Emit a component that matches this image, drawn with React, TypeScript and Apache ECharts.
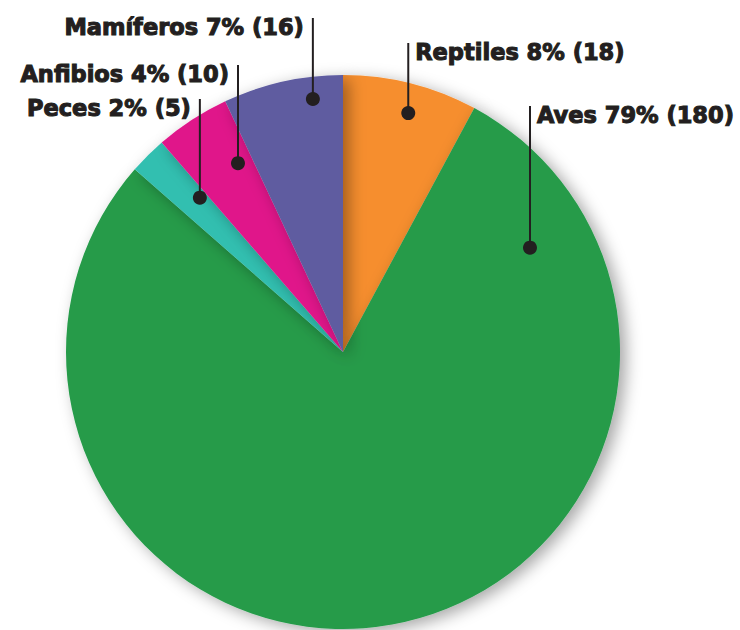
import React, { useEffect, useRef } from "react";
import * as echarts from "echarts";

const categories = ["Reptiles", "Aves", "Peces", "Anfibios", "Mamíferos"];
const values = [18, 180, 5, 10, 16];
const colors = ["#F68E2F", "#259B4A", "#33BFB0", "#E0168A", "#5E5CA0"];

// label layout (style only): position of dot inside slice and label cap-top y
const labelCfg = [
  { t: 0.54, rf: 0.894, top: 43, side: "right" },
  { t: 0.115, rf: 0.773, top: 106, side: "right" },
  { t: 0.75, rf: 0.76, top: 99, side: "left" },
  { t: 0.75, rf: 0.78, top: 65, side: "left" },
  { t: 0.73, rf: 0.92, top: 18, side: "left" },
];

const CX = 343;
const CY = 352;
const R = 277;
const INK = "#231F20";

export default function App() {
  const ref = useRef<HTMLDivElement>(null);
  useEffect(() => {
    document.body.style.margin = "0";
    if (!ref.current) return;
    const chart = echarts.init(ref.current, null, { renderer: "svg" });
    const total = values.reduce((a, b) => a + b, 0);
    const graphics: any[] = [];
    let acc = 0;
    values.forEach((v, i) => {
      const a0 = (acc / total) * 360;
      const a1 = ((acc + v) / total) * 360;
      acc += v;
      const cfg = labelCfg[i];
      const th = ((a0 + (a1 - a0) * cfg.t) * Math.PI) / 180;
      const r = cfg.rf * R;
      const dx = CX + r * Math.sin(th);
      const dy = CY - r * Math.cos(th);
      const pct = Math.round((v / total) * 100);
      const text = `${categories[i]} ${pct}% (${v})`;
      graphics.push({
        type: "line",
        z: 100,
        shape: { x1: dx, y1: cfg.top, x2: dx, y2: dy },
        style: { stroke: INK, lineWidth: 2 },
      });
      graphics.push({
        type: "circle",
        z: 101,
        shape: { cx: dx, cy: dy, r: 7 },
        style: { fill: INK },
      });
      const left = cfg.side === "left";
      graphics.push({
        type: "text",
        z: 102,
        x: left ? dx - 9 : dx + 7,
        y: cfg.top + 9,
        style: {
          text,
          fill: INK,
          stroke: INK,
          lineWidth: 1.1,
          font: 'bold 22.5px "DejaVu Sans"',
          align: left ? "right" : "left",
          textAlign: left ? "right" : "left",
          verticalAlign: "middle",
          textVerticalAlign: "middle",
        },
      });
    });

    chart.setOption({
      animation: false,
      series: [
        {
          type: "pie",
          center: [CX, CY],
          radius: [0, R],
          startAngle: 90,
          clockwise: true,
          label: { show: false },
          labelLine: { show: false },
          emphasis: { disabled: true },
          itemStyle: {
            shadowBlur: 16,
            shadowColor: "rgba(0,0,0,0.35)",
            shadowOffsetX: 6,
            shadowOffsetY: 4,
          },
          data: categories.map((c, i) => ({
            name: c,
            value: values[i],
            itemStyle: { color: colors[i] },
          })),
        },
      ],
      graphic: { elements: graphics },
    });
    return () => chart.dispose();
  }, []);
  return <div ref={ref} style={{ width: 740, height: 630 }} />;
}
